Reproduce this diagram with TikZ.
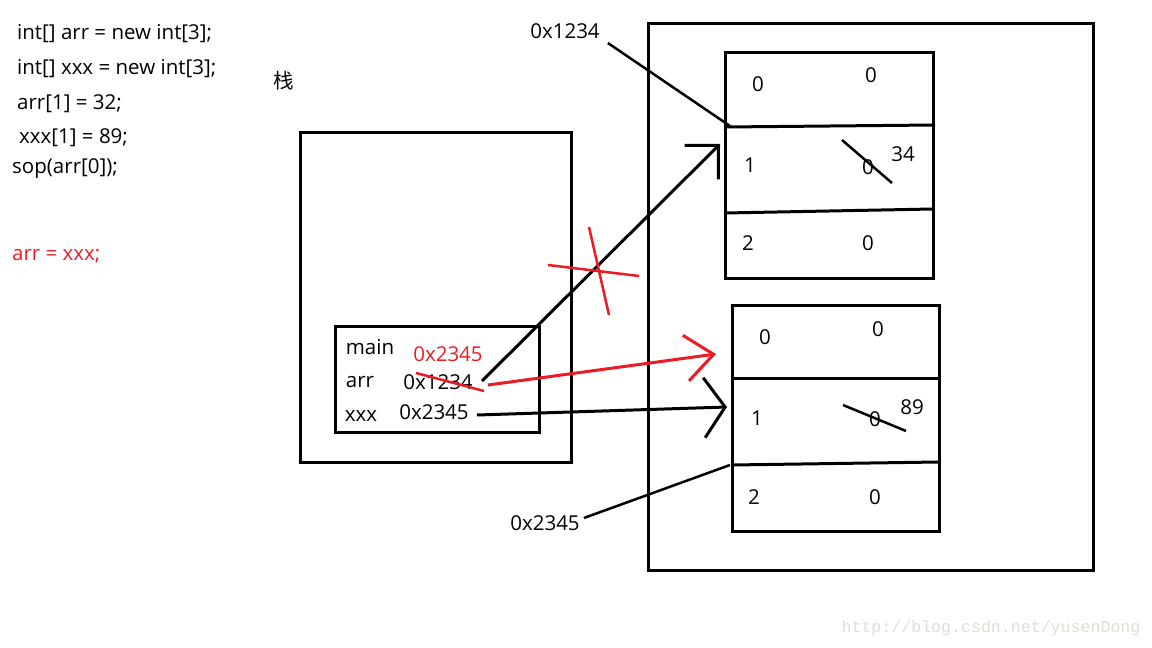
\documentclass[tikz,border=0pt]{standalone}
\usepackage{fontspec}
\setmainfont{Open Sans}
\newfontfamily\cjk{Noto Sans CJK SC}
\newfontfamily\markfont{Liberation Mono}
\usetikzlibrary{arrows.meta}
\definecolor{penred}{RGB}{237,28,36}
\definecolor{markgray}{RGB}{222,222,216}
\tikzset{codeline/.style={anchor=west,inner sep=0pt,font=\fontsize{20.5}{22}\selectfont},
  cell/.style={inner sep=0pt,font=\fontsize{20.5}{22}\selectfont},
  pen/.style={line width=3pt},
  thinpen/.style={line width=2.5pt}}

\begin{document}
\begin{tikzpicture}[x=1pt,y=-1pt]
\useasboundingbox (0,0) rectangle (1152,648);

% code
\node [style = codeline] (c1) at (17,34) {int[] arr = new int[3];};
\node [style = codeline] (c2) at (17,69) {int[] xxx = new int[3];};
\node [style = codeline] (c3) at (17,104) {arr[1] = 32;};
\node [style = codeline] (c4) at (19,138) {xxx[1] = 89;};
\node [style = codeline] (c5) at (12,169) {sop(arr[0]);};
\node [style = codeline, penred] (c6) at (12,256) {arr = xxx;};

% stack
\node [style = cell] (stack) at (284,81) {\cjk 栈};
\draw [pen] (300,132) rectangle (571,462);
\draw [pen] (335,326) rectangle (539,432);
\node [style = cell] (main) at (370,347) {main};
\node [style = cell] (arr) at (360,382) {arr};
\node [style = cell] (xxx) at (361,416) {xxx};
\node [style = cell, penred] (newval) at (448,354) {0x2345};
\node [style = cell] (oldval) at (438,382) {0x1234};
\node [style = cell] (xxxval) at (434,412) {0x2345};

% heap
\draw [pen] (648,23) rectangle (1093,570);
\draw [pen] (725,52) rectangle (933,278);
\draw [pen] (725,127) -- (935,125);
\draw [pen] (725,213) -- (933,209);
\draw [pen] (732,305) rectangle (939,531);
\draw [pen] (732,378) -- (941,378);
\draw [pen] (732,465) -- (939,462);

\node [style = cell] (a0i) at (758,84) {0};
\node [style = cell] (a0v) at (871,75) {0};
\node [style = cell] (a1i) at (750,165) {1};
\node [style = cell] (a1v) at (868,167) {0};
\node [style = cell] (a1n) at (903,154) {34};
\node [style = cell] (a2i) at (748,243) {2};
\node [style = cell] (a2v) at (868,243) {0};
\node [style = cell] (b0i) at (765,337) {0};
\node [style = cell] (b0v) at (878,329) {0};
\node [style = cell] (b1i) at (757,418) {1};
\node [style = cell] (b1v) at (875,419) {0};
\node [style = cell] (b1n) at (912,407) {89};
\node [style = cell] (b2i) at (754,497) {2};
\node [style = cell] (b2v) at (875,497) {0};

\node [style = cell] (addra) at (565,31) {0x1234};
\node [style = cell] (addrb) at (545,523) {0x2345};

% ends
\coordinate (arrout) at (482,381);
\coordinate (xxxout) at (477,415);
\coordinate (newout) at (488,385);
\coordinate (atip) at (720,144);
\coordinate (btip) at (727,407);
\coordinate (newtip) at (716,354);
\coordinate (acorner) at (730,126);
\coordinate (bcorner) at (730,465);

% edges
\draw [pen, -{Straight Barb[length=24pt,width=48pt]}] (arrout) to (atip);
\draw [pen, -{Straight Barb[length=21pt,width=60pt]}] (xxxout) to (btip);
\draw [pen, penred, -{Straight Barb[length=28pt,width=46pt]}] (newout) to (newtip);
\draw [thinpen] (addra.east) ++(8,12) to (acorner);
\draw [thinpen] (addrb.east) ++(4,-5) to (bcorner);

% cross-outs
\draw [thinpen] (842,140) -- (892,183);
\draw [thinpen] (843,405) -- (906,431);
\draw [thinpen, penred] (416,373) -- (484,391);
\draw [thinpen, penred] (548,265) -- (639,276);
\draw [thinpen, penred] (589,227) -- (609,315);

\node [font=\markfont\fontsize{16.6}{18}\selectfont, markgray] (mark) at (991,628) {http://blog.csdn.net/yusenDong};
\end{tikzpicture}
\end{document}
